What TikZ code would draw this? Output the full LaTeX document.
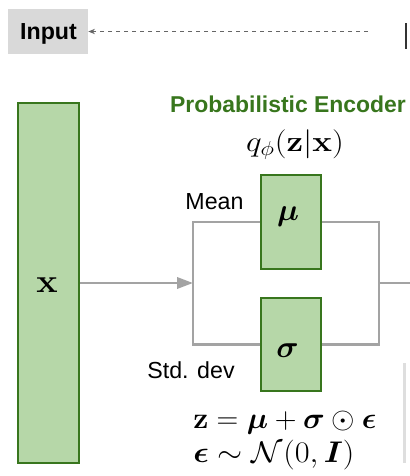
\documentclass[tikz,border=0pt]{standalone}
\usepackage{amsmath,bm,graphicx}
\usepackage[no-math]{fontspec}
\newfontfamily\arial{Liberation Sans}
\usetikzlibrary{arrows.meta}
\definecolor{gfill}{HTML}{B6D7A8}
\definecolor{gline}{HTML}{38761D}
\definecolor{conn}{HTML}{A3A3A3}
\definecolor{ibox}{HTML}{D9D9D9}
\begin{document}
\begin{tikzpicture}[x=0.75pt,y=-0.75pt,
  gbox/.style={draw=gline,fill=gfill,line width=1.5pt,inner sep=0pt},
  connline/.style={draw=conn,line width=1.9pt},
  sanslabel/.style={font=\arial\fontsize{17.4}{20}\selectfont,inner sep=0pt},
  mathlabel/.style={font=\fontsize{20}{24}\selectfont,inner sep=0pt},
  ]
\useasboundingbox (0,0) rectangle (410,476);
% input box and dashed arrow
\node[fill=ibox,minimum width=60pt,minimum height=33.75pt,inner sep=0pt] (input) at (48,31.5) {};
\node[sanslabel,font=\arial\bfseries\fontsize{17.4}{20}\selectfont,anchor=base] (inputtxt) at (48.5,39) {Input};
\coordinate (dstart) at (368,31.5);
\draw[draw=black!60,line width=0.8pt,dash pattern=on 3pt off 3pt,-{Stealth[length=5pt,width=4pt]}] (dstart) -- (input.east);
% cropped marks at right edge
\node[fill=black!80,minimum width=1.5pt,minimum height=19.5pt,inner sep=0pt] (topbar) at (405.5,36) {};
\node[fill=black!13,minimum width=2.2pt,minimum height=75pt,inner sep=0pt] (graybar) at (404.5,413) {};
% boxes
\node[gbox,minimum width=45.75pt,minimum height=270pt] (x) at (48.5,283) {};
\node[gbox,minimum width=45pt,minimum height=70.5pt] (mu) at (291,222) {};
\node[gbox,minimum width=45pt,minimum height=69.75pt] (sigma) at (291,344.5) {};
\node[mathlabel,anchor=base] (xtxt) at (47,292) {\scalebox{1.3}[1.2]{$\mathbf{x}$}};
\node[mathlabel,anchor=base] (mutxt) at (288,220) {\scalebox{1.12}{$\bm{\mu}$}};
\node[mathlabel,anchor=base] (sigmatxt) at (287.5,357) {\scalebox{1.12}{$\bm{\sigma}$}};
% connectors
\coordinate (join) at (193,283);
\coordinate (rjoin) at (379,283);
\coordinate (outend) at (412,283);
\draw[connline] (mu.west) -| (join) |- (sigma.west);
\draw[connline] (mu.east) -| (rjoin) |- (sigma.east);
\draw[connline] (rjoin) -- (outend);
\draw[connline,-{Triangle[length=12pt,width=8.5pt]}] (x.east) -- (join);
% labels
\node[sanslabel,font=\arial\bfseries\fontsize{17.2}{20}\selectfont,text=gline,anchor=base] (enc) at (288,112) {Probabilistic Encoder};
\node[mathlabel,anchor=base] (q) at (295,151.5) {\scalebox{1.2}[1.05]{$q_{\phi}(\mathbf{z}|\mathbf{x})$}};
\node[sanslabel,anchor=base] (mean) at (214.5,209) {Mean};
\node[sanslabel,anchor=base] (std) at (191,378) {Std. dev};
\node[mathlabel,anchor=base west] (eq1) at (193,428) {\scalebox{1.09}[1.08]{$\mathbf{z} = \bm{\mu} + \bm{\sigma} \odot \bm{\epsilon}$}};
\node[mathlabel,anchor=base west] (eq2) at (193,462.5) {\scalebox{1.17}[1.08]{$\bm{\epsilon} \sim \mathcal{N}(0,\bm{I})$}};
\end{tikzpicture}
\end{document}
